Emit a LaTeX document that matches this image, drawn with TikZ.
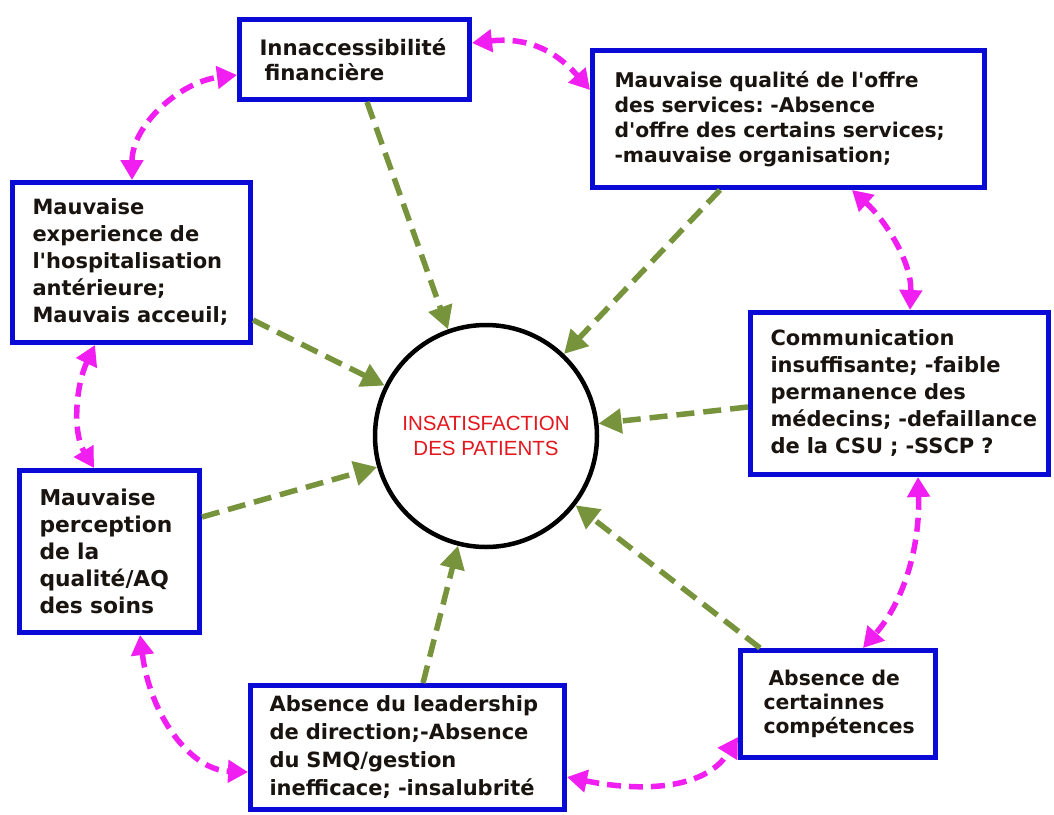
\documentclass[tikz,border=0pt]{standalone}
\usepackage{fontspec}
\setmainfont{DejaVu Sans}
\newfontfamily\arialfont{Liberation Sans}
\usetikzlibrary{arrows.meta,calc}
\definecolor{boxblue}{RGB}{10,10,215}
\definecolor{mag}{RGB}{240,30,240}
\definecolor{olivegr}{RGB}{119,147,60}
\definecolor{txtred}{RGB}{228,22,30}
\definecolor{txtdark}{RGB}{25,20,15}
\newcommand{\ap}{\textquotesingle}
\newcommand{\oneline}[1]{\mbox{#1}}
\frenchspacing
\begin{document}
\begin{tikzpicture}[x=1pt,y=-1pt,
  box/.style={draw=boxblue, line width=5pt, fill=white, align=left, anchor=north west,
    text=txtdark, inner ysep=0pt},
  garrow/.style={draw=olivegr, line width=5.5pt, dash pattern=on 18pt off 9pt,
    -{Triangle[length=23pt,width=24pt]}},
  marrow/.style={draw=mag, line width=5.5pt, dash pattern=on 14pt off 8pt,
    {Triangle[length=20pt,width=22pt]}-{Triangle[length=20pt,width=22pt]}}
]
\useasboundingbox[fill=white] (0,0) rectangle (1054,814);

% center circle
\node[circle, draw=black, line width=4.5pt, minimum size=222pt, inner sep=0pt,
  align=center, text=txtred, font=\arialfont\fontsize{20.5}{25}\selectfont]
  (c) at (486,436) {INSATISFACTION\\DES PATIENTS};

% boxes
\node[box, font=\bfseries\fontsize{21.3}{25}\selectfont, minimum width=230pt, minimum height=80pt, inner xsep=20pt, text width=190pt]
  (b1) at (237,17) {\oneline{Innaccessibilité}\\\oneline{\hspace*{5pt}financière}};
\node[box, font=\bfseries\fontsize{20.3}{25}\selectfont, minimum width=392pt, minimum height=137pt, inner xsep=22pt, text width=348pt]
  (b2) at (590,48) {\oneline{Mauvaise qualité de l\ap offre}\\\oneline{des services: -Absence}\\\oneline{d\ap offre des certains services;}\\\oneline{-mauvaise organisation;}};
\node[box, font=\bfseries\fontsize{21}{27}\selectfont, minimum width=238pt, minimum height=160pt, inner xsep=20pt, text width=198pt]
  (b3) at (10,180) {\oneline{Mauvaise}\\\oneline{experience de}\\\oneline{l\ap hospitalisation}\\\oneline{antérieure;}\\\oneline{Mauvais acceuil;}};
\node[box, font=\bfseries\fontsize{21}{27}\selectfont, minimum width=298pt, minimum height=162pt, inner xsep=20pt, text width=258pt]
  (b4) at (748,310) {\oneline{Communication}\\\oneline{insuffisante; -faible}\\\oneline{permanence des}\\\oneline{médecins; -defaillance}\\\oneline{de la CSU ; -SSCP ?}};
\node[box, font=\bfseries\fontsize{21.8}{27}\selectfont, minimum width=180pt, minimum height=162pt, inner xsep=20pt, text width=140pt]
  (b5) at (17,468) {\oneline{Mauvaise}\\\oneline{perception}\\\oneline{de la}\\\oneline{qualité/AQ}\\\oneline{des soins}};
\node[box, font=\bfseries\fontsize{21}{28}\selectfont, minimum width=314pt, minimum height=124pt, inner xsep=19pt, text width=276pt]
  (b6) at (248,683) {\oneline{Absence du leadership}\\\oneline{de direction;-Absence}\\\oneline{du SMQ/gestion}\\\oneline{inefficace; -insalubrité}};
\node[box, font=\bfseries\fontsize{20.3}{24}\selectfont, minimum width=195pt, minimum height=107pt, inner xsep=23pt, text width=149pt]
  (b7) at (738,648) {\oneline{\hspace*{5pt}Absence de}\\\oneline{certainnes}\\\oneline{compétences}};

% green arrows to the circle
\draw[garrow] ([xshift=130pt]b1.south west) -- (c);
\draw[garrow] ([xshift=130pt]b2.south west) -- (c);
\draw[garrow] ([yshift=-140pt]b3.north east) -- (c);
\draw[garrow] ([yshift=-97pt]b4.north west) -- (c);
\draw[garrow] ([yshift=-49pt]b5.north east) -- (c);
\draw[garrow] ([xshift=175pt]b6.north west) -- (c);
\draw[garrow] ([xshift=22pt]b7.north west) -- (c);

% magenta double arrows
\draw[marrow] ([xshift=122pt]b3.north west) .. controls (132,125) and (180,82) .. ([yshift=-58pt]b1.north west);
\draw[marrow] ([yshift=-26pt]b1.north east) .. controls (535,36) and (562,58) .. ([yshift=-42pt]b2.north west);
\draw[marrow] ([xshift=262pt]b2.south west) .. controls (885,220) and (912,262) .. ([xshift=162pt]b4.north west);
\draw[marrow] ([xshift=170pt]b4.south west) .. controls (920,545) and (905,600) .. ([xshift=125pt]b7.north west);
\draw[marrow] ([yshift=-94pt]b6.north east) .. controls (640,792) and (705,790) .. ([yshift=-89pt]b7.north west);
\draw[marrow] ([xshift=123pt]b5.south west) .. controls (150,715) and (190,770) .. ([yshift=-89pt]b6.north west);
\draw[marrow] ([xshift=85pt]b3.south west) .. controls (76,385) and (72,432) .. ([xshift=77pt]b5.north west);
\end{tikzpicture}
\end{document}
